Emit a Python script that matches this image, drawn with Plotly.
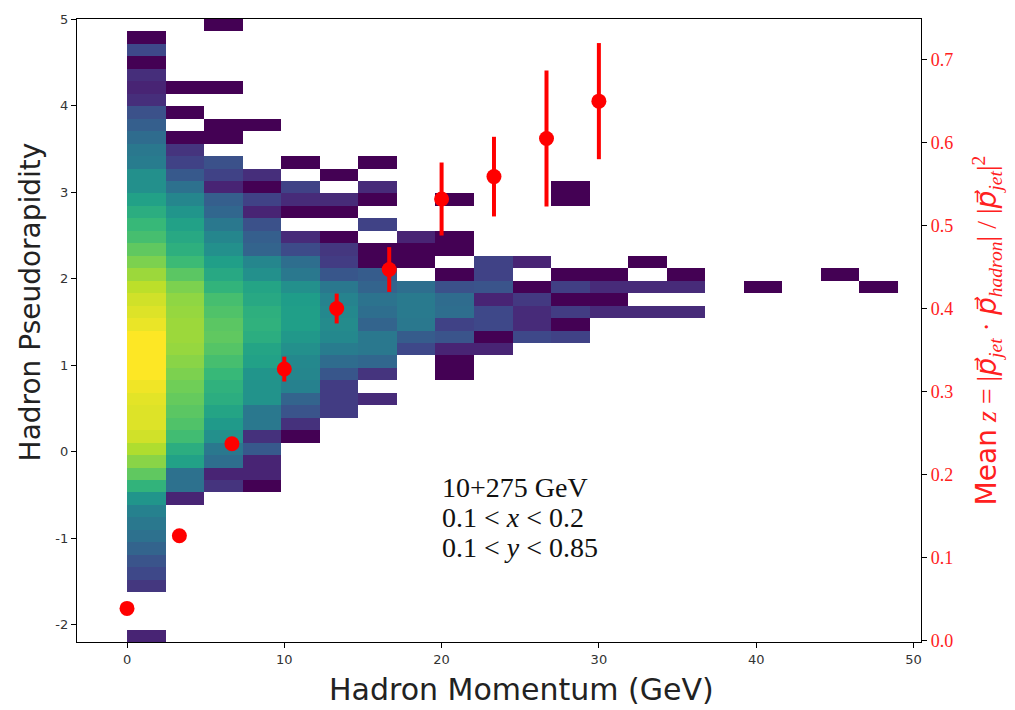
import plotly.graph_objects as go

# ---------------- data ----------------
# 2D histogram: 20 momentum bins (0 .. 49 GeV) x 50 pseudorapidity bins (-2.2 .. 5.0)
x_edges_start, x_bin_width, n_xbins = 0.0, 2.45, 20
y_edges_start, y_bin_width, n_ybins = -2.2, 0.144, 50

# normalised log-density per column; lists run from the top row downwards,
# starting at row index <colN_top> (row 0 = top bin 4.856..5.0); None = empty bin
col0_top = 1
col0 = [0.0, 0.22, 0.0, 0.13, 0.1, 0.13, 0.25, 0.3, 0.35, 0.4, 0.42, 0.5, 0.5, 0.57, 0.62, 0.67,
        0.7, 0.75, 0.8, 0.85, 0.9, 0.93, 0.95, 0.97, 1.0, 1.0, 1.0, 1.0, 0.98, 0.96, 0.95, 0.95,
        0.93, 0.88, 0.82, 0.75, 0.65, 0.52, 0.44, 0.4, 0.37, 0.32, 0.26, 0.22, 0.16, None, None, None, 0.1]
col1_top = 5
col1 = [0.0, None, 0.0, None, 0.0, 0.15, 0.2, 0.28, 0.37, 0.46, 0.52, 0.57, 0.6, 0.63, 0.68, 0.74,
        0.8, 0.83, 0.84, 0.85, 0.85, 0.84, 0.82, 0.8, 0.78, 0.76, 0.74, 0.72, 0.69, 0.62, 0.57,
        0.37, 0.37, 0.1]
col2_top = 0
col2 = [0.0, None, None, None, None, 0.0, None, None, 0.0, 0.0, None, 0.25, 0.2, 0.1, 0.3, 0.33,
        0.4, 0.46, 0.5, 0.56, 0.6, 0.65, 0.7, 0.72, 0.74, 0.75, 0.73, 0.7, 0.67, 0.64, 0.62, 0.58,
        0.54, 0.5, 0.4, 0.36, 0.1, 0.15]
col3_top = 8
col3 = [0.0, None, None, None, 0.13, 0.0, 0.2, 0.1, 0.25, 0.3, 0.32, 0.46, 0.5, 0.58, 0.6, 0.63,
        0.64, 0.62, 0.58, 0.57, 0.52, 0.51, 0.51, 0.4, 0.4, 0.14, 0.28, 0.1, 0.1, 0.0]
col4_top = 11
col4 = [0.0, None, 0.2, 0.12, 0.0, None, 0.12, 0.23, 0.36, 0.4, 0.5, 0.55, 0.56, 0.56, 0.53, 0.5,
        0.47, 0.46, 0.44, 0.32, 0.26, 0.14, 0.0]
col5_top = 12
col5 = [0.0, None, 0.12, 0.0, None, 0.0, 0.16, 0.18, 0.27, 0.4, 0.45, 0.47, 0.48, 0.47, 0.42,
        0.35, 0.27, 0.18, 0.18, 0.18]
col6_top = 11
col6 = [0.0, None, 0.12, 0.0, None, 0.2, None, 0.0, 0.0, 0.29, 0.32, 0.38, 0.36, 0.32, 0.4, 0.4,
        0.33, 0.15, None, 0.12]
col7_top = 17
col7 = [0.1, 0.0, 0.0, None, 0.36, 0.41, 0.41, 0.4, 0.29, 0.22]
col8_top = 14
col8 = [0.0, None, None, 0.0, 0.0, None, 0.0, 0.25, 0.35, 0.36, 0.2, 0.26, 0.1, 0.0, 0.0]
col9_top = 19
col9 = [0.2, 0.2, 0.26, 0.1, 0.22, 0.22, 0.0, 0.1]
col10_top = 19
col10 = [0.1, None, 0.0, 0.17, 0.12, 0.12, 0.22]
col11_top = 13
col11 = [0.0, 0.0, None, None, None, None, None, 0.0, 0.19, 0.0, 0.18, 0.0, 0.2]
col12_top = 20
col12 = [0.0, 0.12, 0.0, 0.12]
col13_top = 19
col13 = [0.0, None, 0.12, None, 0.12]
col14_top = 20
col14 = [0.0, 0.12, None, 0.12]
col15_top = 0
col15 = []
col16_top = 21
col16 = [0.0]
col17_top = 0
col17 = []
col18_top = 20
col18 = [0.0]
col19_top = 21
col19 = [0.0]

# mean z profile (right axis)
z_mom = [0.0, 3.33, 6.67, 10.0, 13.33, 16.67, 20.0, 23.33, 26.67, 30.0]
z_mean = [0.0385, 0.126, 0.237, 0.327, 0.400, 0.447, 0.532, 0.559, 0.605, 0.650]
z_err = [0.003, 0.004, 0.006, 0.015, 0.018, 0.027, 0.044, 0.048, 0.082, 0.070]

x_ticks = [0, 10, 20, 30, 40, 50]
y_ticks = [-2, -1, 0, 1, 2, 3, 4, 5]
y_tick_text = ["-2", "-1", "0", "1", "2", "3", "4", "5"]
y2_ticks = [0.0, 0.1, 0.2, 0.3, 0.4, 0.5, 0.6, 0.7]
y2_tick_text = ["0.0", "0.1", "0.2", "0.3", "0.4", "0.5", "0.6", "0.7"]

# ---------------- build matrix ----------------
cols = [(col0_top, col0), (col1_top, col1), (col2_top, col2), (col3_top, col3), (col4_top, col4),
        (col5_top, col5), (col6_top, col6), (col7_top, col7), (col8_top, col8), (col9_top, col9),
        (col10_top, col10), (col11_top, col11), (col12_top, col12), (col13_top, col13),
        (col14_top, col14), (col15_top, col15), (col16_top, col16), (col17_top, col17),
        (col18_top, col18), (col19_top, col19)]

z = [[None] * n_xbins for _ in range(n_ybins)]  # row 0 = bottom
for c, (top, vals) in enumerate(cols):
    for i, v in enumerate(vals):
        t = top + i
        k = n_ybins - 1 - t
        z[k][c] = v

x_centers = [x_edges_start + x_bin_width * (i + 0.5) for i in range(n_xbins)]
y_centers = [y_edges_start + y_bin_width * (k + 0.5) for k in range(n_ybins)]

fig = go.Figure()
fig.add_trace(go.Heatmap(x=x_centers, y=y_centers, z=z, zmin=0, zmax=1,
                         colorscale="Viridis", showscale=False, hoverongaps=False))
fig.add_trace(go.Scatter(x=z_mom, y=z_mean, yaxis="y2", mode="markers",
                         marker=dict(color="#ff0000", size=15),
                         error_y=dict(type="data", array=z_err, color="#ff0000",
                                      thickness=4, width=0),
                         showlegend=False))

serif = "Liberation Serif, DejaVu Serif, serif"
sans = "DejaVu Sans, Verdana, sans-serif"

pvec = "<span style=\"font-family:DejaVu Sans\"><i>p⃗</i></span>"
y2_title = ("<span style=\"font-family:DejaVu Sans\">Mean</span> "
            "<i>z</i> = |" + pvec + "<sub><i>jet</i></sub> · " + pvec + "<sub><i>hadron</i></sub>| / |"
            + pvec + "<sub><i>jet</i></sub>|<sup>2</sup>")

fig.update_layout(
    width=1015, height=710,
    margin=dict(l=77, r=94, t=17, b=68),
    paper_bgcolor="white", plot_bgcolor="white",
    font=dict(family=sans, color="#222222"),
    xaxis=dict(range=[-3.18, 50.48], tickvals=x_ticks, ticks="outside", ticklen=5,
               tickcolor="black", showline=True, linecolor="black", linewidth=1.2,
               mirror=True, showgrid=False, zeroline=False,
               tickfont=dict(size=13, family=sans, color="#333333")),
    yaxis=dict(range=[-2.2, 5.0], tickvals=y_ticks, ticktext=y_tick_text, ticks="outside",
               ticklen=5, tickcolor="black", showline=True, linecolor="black", linewidth=1.2,
               showgrid=False, zeroline=False,
               tickfont=dict(size=13, family=sans, color="#333333")),
    yaxis2=dict(range=[-0.002, 0.749], overlaying="y", side="right", tickvals=y2_ticks,
                ticktext=y2_tick_text, ticks="outside", ticklen=5, tickcolor="black",
                showline=True, linecolor="black", linewidth=1.2, showgrid=False, zeroline=False,
                tickfont=dict(size=18, family=serif, color="#ff2020"),
                title=dict(text=y2_title,
                           font=dict(size=28, family=serif, color="#ff2020"),
                           standoff=24)),
)

# axis titles (placed as in the reference)
fig.add_annotation(text="Hadron Momentum (GeV)", xref="paper", yref="paper",
                   x=0.527, y=-0.077, xanchor="center", yanchor="middle", showarrow=False,
                   font=dict(size=30, family=sans, color="#222222"))
fig.add_annotation(text="Hadron Pseudorapidity", xref="paper", yref="paper",
                   x=-0.055, y=0.546, xanchor="center", yanchor="middle", showarrow=False,
                   textangle=-90, font=dict(size=28, family=sans, color="#222222"))

ann_x = 19.9
ann_lines = ["10+275 GeV", "0.1 &lt; <i>x</i> &lt; 0.2", "0.1 &lt; <i>y</i> &lt; 0.85"]
ann_y = [-0.42, -0.766, -1.11]
for txt, yy in zip(ann_lines, ann_y):
    fig.add_annotation(x=ann_x, y=yy, xref="x", yref="y", text=txt, showarrow=False,
                       xanchor="left", yanchor="middle",
                       font=dict(size=28, family=serif, color="#111111"))

fig.write_html("out.html")
